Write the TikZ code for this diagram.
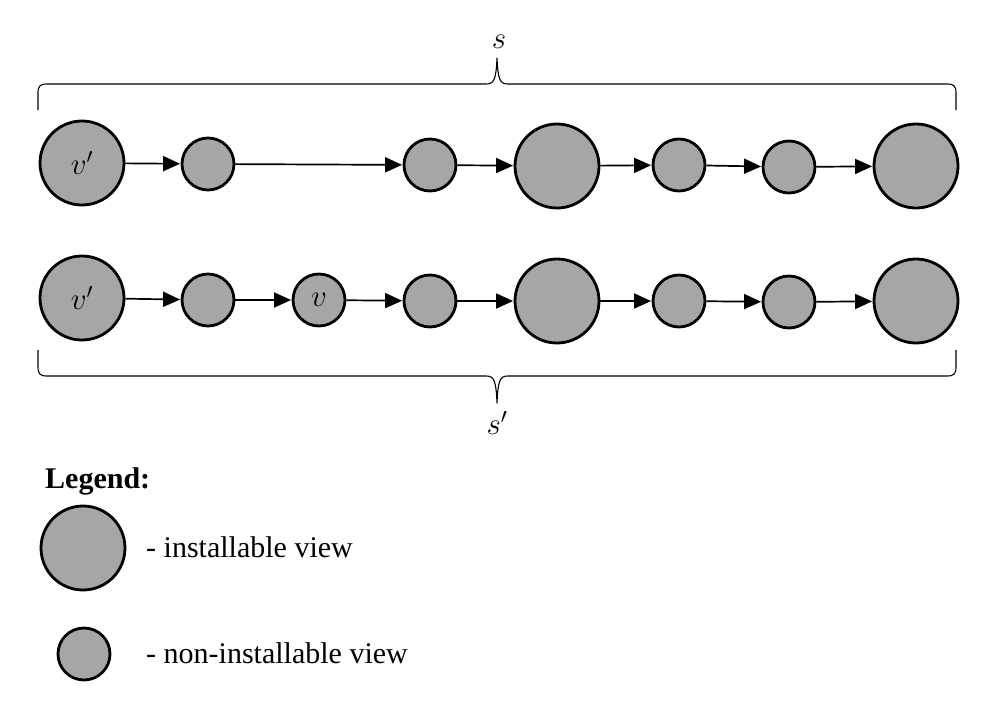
\RequirePackage{fix-cm}
\documentclass[tikz,border=0pt]{standalone}
\usepackage{fontspec}
\setmainfont{Liberation Serif}
\usepackage{tikz}
\usetikzlibrary{arrows.meta}
\usepackage{xcolor}
\definecolor{viewgray}{RGB}{166,166,166}

\begin{document}
\begin{tikzpicture}[x=1pt, y=-1pt,
  every node/.style={inner sep=0pt},
  bigview/.style={circle, draw=black, line width=2.8pt, fill=viewgray,
                  minimum size=84pt},
  smallview/.style={circle, draw=black, line width=2.8pt, fill=viewgray,
                    minimum size=52pt},
  lbl/.style={font=\fontsize{31}{36}\selectfont},
  txt/.style={font=\fontsize{30}{36}\selectfont, anchor=base west},
  arrow/.style={-{Triangle[length=17pt, width=15pt]}, line width=1.7pt,
                shorten >=0.5pt},
  bracel/.style={line width=1.1pt, line join=round}]
\useasboundingbox (0,0) rectangle (988,718);

% upper sequence s
\node[bigview, lbl] (sv) at (82,163) {$v'$};
\node[smallview] (s2) at (208,164) {};
\node[smallview] (s3) at (430,165) {};
\node[bigview] (s4) at (557,166) {};
\node[smallview] (s5) at (679,165) {};
\node[smallview] (s6) at (789,167) {};
\node[bigview] (s7) at (916,166) {};
\draw[arrow] (sv) -- (s2);
\draw[arrow] (s2) -- (s3);
\draw[arrow] (s3) -- (s4);
\draw[arrow] (s4) -- (s5);
\draw[arrow] (s5) -- (s6);
\draw[arrow] (s6) -- (s7);

% lower sequence s'
\node[bigview, lbl] (tv) at (82,298) {$v'$};
\node[smallview] (t2) at (208,300) {};
\node[smallview, lbl] (tins) at (319,300) {$v$};
\node[smallview] (t4) at (430,301) {};
\node[bigview] (t5) at (557,301) {};
\node[smallview] (t6) at (679,301) {};
\node[smallview] (t7) at (789,302) {};
\node[bigview] (t8) at (916,301) {};
\draw[arrow] (tv) -- (t2);
\draw[arrow] (t2) -- (tins);
\draw[arrow] (tins) -- (t4);
\draw[arrow] (t4) -- (t5);
\draw[arrow] (t5) -- (t6);
\draw[arrow] (t6) -- (t7);
\draw[arrow] (t7) -- (t8);

% braces
\draw[bracel] (38,110) -- (38,93) .. controls (38,86) and (40,84) .. (47,84)
  -- (486,84) .. controls (494,84) and (496,80) .. (497,58)
  .. controls (498,80) and (500,84) .. (508,84)
  -- (947,84) .. controls (954,84) and (956,86) .. (956,93) -- (956,110);
\node[lbl] (slabel) at (499,42) {$s$};

\draw[bracel] (38,350) -- (38,367) .. controls (38,374) and (40,376) .. (47,376)
  -- (486,376) .. controls (494,376) and (496,380) .. (497,403)
  .. controls (498,380) and (500,376) .. (508,376)
  -- (947,376) .. controls (954,376) and (956,374) .. (956,367) -- (956,350);
\node[lbl] (tlabel) at (497,423) {$s'$};

% legend
\node[txt, font=\fontsize{30}{36}\selectfont\bfseries] (legend) at (45,488) {Legend:};
\node[bigview] (lbig) at (83,548) {};
\node[txt] (lbigtxt) at (146,557) {- installable view};
\node[smallview] (lsmall) at (84,654) {};
\node[txt] (lsmalltxt) at (146,663) {- non-installable view};
\end{tikzpicture}
\end{document}
